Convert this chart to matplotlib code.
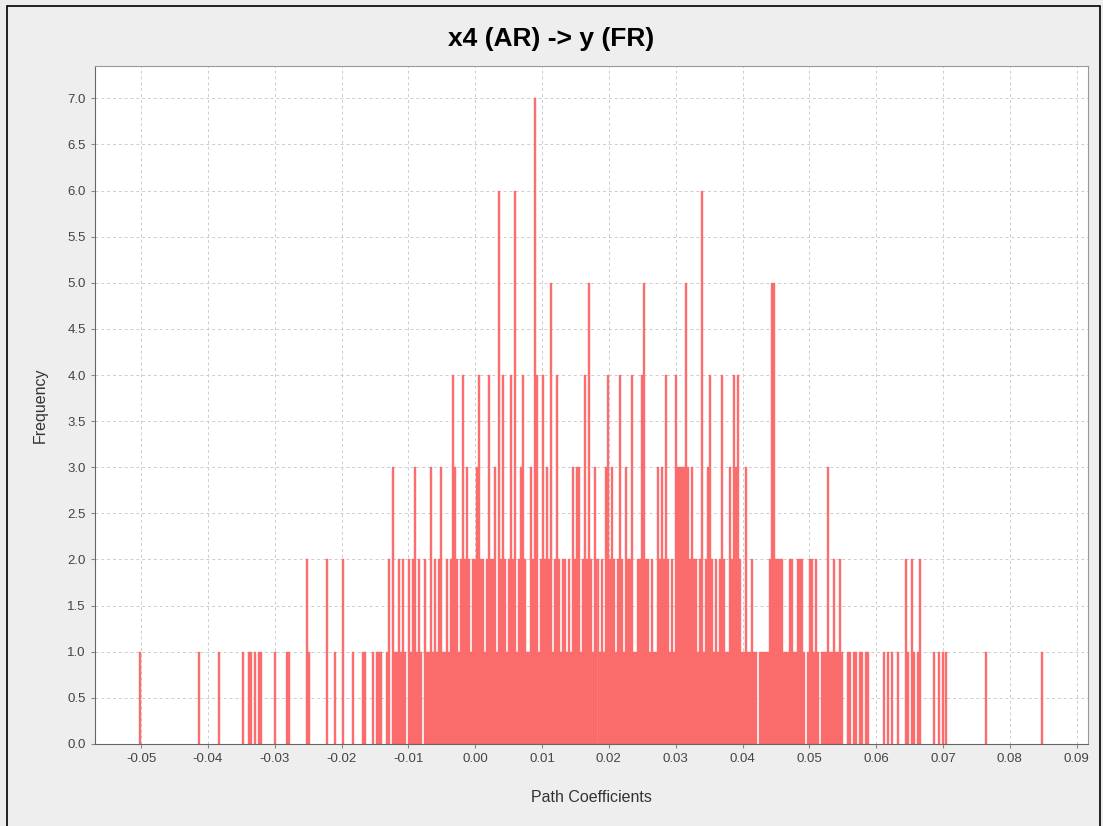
import matplotlib
matplotlib.use("Agg")
import matplotlib.pyplot as plt
import numpy as np
from matplotlib.patches import Rectangle
from matplotlib.ticker import MultipleLocator, FormatStrFormatter

plt.rcParams['font.family'] = ['Liberation Sans', 'DejaVu Sans']

# ---- data -----------------------------------------------------------------
# sparse bars in the tails, coefficient in units of 1e-4
left_coef_e4 = [-501, -414, -384, -348, -339, -336, -330, -324, -321, -300,
                -282, -279, -252, -249, -222, -210, -198, -183, -168, -165,
                -153, -147, -144, -141, -132, -129, -123]
left_freq = [1, 1, 1, 1, 1, 1, 1, 1, 1, 1,
             1, 1, 2, 1, 2, 1, 2, 1, 1, 1,
             1, 1, 1, 1, 1, 2, 3]

right_coef_e4 = [612, 618, 623, 633, 645, 648, 653, 657, 662, 666,
                 687, 694, 700, 705, 765, 848]
right_freq = [1, 1, 1, 1, 2, 1, 2, 1, 1, 2,
              1, 1, 1, 1, 1, 1]

# dense centre: consecutive bins starting at -0.0120
dense_start = -0.0120
dense_counts = [
    1, 1, 2, 1, 2, 1, 0, 2, 1, 2, 3, 1, 2, 1, 0, 2, 1, 1, 3, 1,
    2, 1, 2, 3, 1, 1, 2, 1, 2, 4, 3, 2, 1, 2, 4, 2, 3, 2, 1, 2,
    2, 3, 4, 2, 2, 1, 2, 4, 2, 2, 3, 1, 6, 2, 4, 2, 1, 2, 4, 2,
    6, 1, 2, 3, 4, 2, 1, 1, 3, 2, 7, 4, 1, 2, 4, 2, 3, 2, 5, 1,
    2, 4, 2, 1, 2, 2, 1, 2, 1, 3, 2, 3, 3, 1, 2, 4, 2, 5, 2, 1,
    3, 2, 1, 2, 1, 3, 4, 2, 3, 2, 1, 2, 4, 2, 1, 3, 2, 2, 4, 1,
    1, 2, 2, 4, 5, 2, 2, 1, 2, 1, 1, 3, 2, 3, 2, 4, 2, 1, 2, 1,
    4, 3, 3, 3, 3, 5, 3, 2, 3, 2, 2, 1, 2, 6, 1, 2, 3, 4, 2, 1,
    2, 1, 2, 4, 2, 1, 1, 3, 2, 4, 3, 4, 2, 1, 1, 3, 1, 1, 2, 1,
    1, 0, 1, 1, 1, 1, 1, 2, 5, 5, 2, 2, 2, 2, 1, 1, 1, 2, 2, 1,
    1, 2, 2, 2, 1, 0, 1, 2, 2, 1, 2, 1, 0, 1, 1, 1, 3, 1, 1, 2,
    1, 1, 2, 1, 0, 0, 1, 1, 0, 1, 1, 0, 1, 1, 0, 1, 1,
]

BIN_W = 0.0003
x_ticks = np.round(np.arange(-0.05, 0.0901, 0.01), 2)

# ---- assemble -------------------------------------------------------------
dense_x = dense_start + BIN_W * np.arange(len(dense_counts))
coef = np.concatenate([np.array(left_coef_e4) * 1e-4, dense_x,
                       np.array(right_coef_e4) * 1e-4])
freq = np.concatenate([left_freq, dense_counts, right_freq]).astype(float)
keep = freq > 0

fig = plt.figure(figsize=(11.03, 8.26), dpi=100, facecolor="#eeeeee")
ax = fig.add_axes([0.0861, 0.0993, 0.9003, 0.8208])
ax.set_facecolor("white")

ax.bar(coef[keep], freq[keep], width=BIN_W, align="center",
       color="#ff7373", edgecolor="#f25a5a", linewidth=0.25, zorder=2)

ax.set_xlim(-0.0569, 0.0917)
ax.set_ylim(0, 7.35)
ax.set_xticks(x_ticks)
ax.xaxis.set_major_formatter(FormatStrFormatter("%.2f"))
ax.yaxis.set_major_locator(MultipleLocator(0.5))
ax.yaxis.set_major_formatter(FormatStrFormatter("%.1f"))
ax.tick_params(labelsize=9.5, length=3, color="#888888", labelcolor="#444444")
ax.grid(True, color="#cccccc", ls=(0, (3, 3)), lw=0.7, zorder=0)
for s in ax.spines.values():
    s.set_color("#999999")
    s.set_linewidth(0.8)
ax.spines["left"].set_color("#666666")
ax.spines["bottom"].set_color("#666666")

ax.set_xlabel("Path Coefficients", fontsize=11.5, color="#333333", labelpad=18)
ax.set_ylabel("Frequency", fontsize=11.5, color="#333333", labelpad=14)
fig.text(0.5, 0.953, "x4 (AR) -> y (FR)", ha="center", va="center",
         fontsize=19, fontweight="bold", color="black")

# screenshot frame
fig.patches.append(Rectangle((0.0063, -0.01), 0.9910, 1.0016 - 0.0085 + 0.01,
                             transform=fig.transFigure, fill=False,
                             edgecolor="black", lw=1.2))

fig.savefig("out.png", dpi=100, facecolor=fig.get_facecolor())
